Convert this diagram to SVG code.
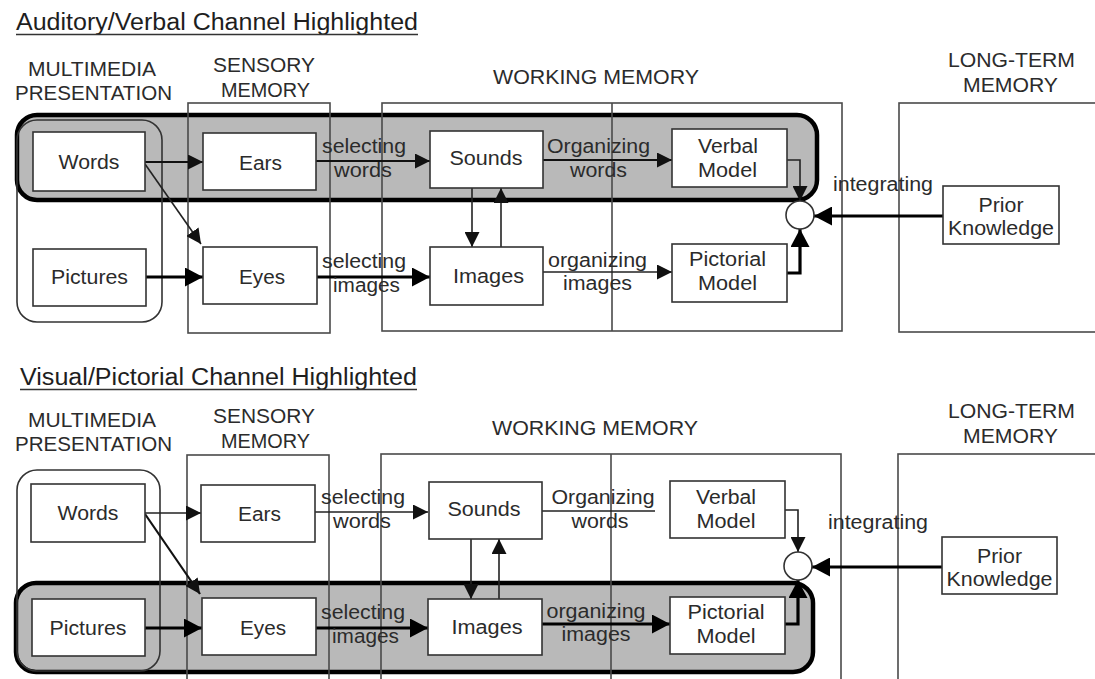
<svg xmlns="http://www.w3.org/2000/svg" width="1095" height="679" viewBox="0 0 1095 679">
  <style>
    .t { font-family: "Liberation Sans", Arial, Helvetica, sans-serif; font-size: 19.5px; fill: #2b2b2b; text-anchor: middle; }
    .title { font-family: "Liberation Sans", Arial, Helvetica, sans-serif; font-size: 23px; fill: #1e1e1e; }
    .uline { stroke: #333; stroke-width: 1.6; }
    .col { fill: none; stroke: #4a4a4a; stroke-width: 1.6; }
    .group { fill: none; stroke: #333; stroke-width: 1.6; }
    .hl { fill: #b9b9b9; stroke: #000; stroke-width: 4.5; }
    .box { fill: #fff; stroke: #333; stroke-width: 1.6; }
    .join { fill: #fff; stroke: #333; stroke-width: 1.6; }
    .thin { fill: none; stroke: #222; stroke-width: 1.6; }
    .mid { fill: none; stroke: #111; stroke-width: 2.2; }
    .bold { fill: none; stroke: #000; stroke-width: 3.2; }
  </style>
  <defs>
    <marker id="arr" markerUnits="userSpaceOnUse" markerWidth="15" markerHeight="15" refX="15" refY="7.5" orient="auto">
      <path d="M0,0 L15,7.5 L0,15 z" fill="#111"/>
    </marker>
    <marker id="arrB" markerUnits="userSpaceOnUse" markerWidth="18" markerHeight="19" refX="18" refY="9.5" orient="auto">
      <path d="M0,0 L18,9.5 L0,19 z" fill="#000"/>
    </marker>
  </defs>

  <rect width="1095" height="679" fill="#fff"/>

  <!-- ===== Upper panel: auditory/verbal channel ===== -->
  <g id="panel-auditory">
    <g id="a-title">
      <text class="title" x="16" y="30" textLength="402" lengthAdjust="spacingAndGlyphs">Auditory/Verbal Channel Highlighted</text>
      <line class="uline" x1="16" y1="34.5" x2="418" y2="34.5"/>
    </g>

    <!-- column headings -->
    <g id="a-headings">
      <text class="t" x="92" y="76" textLength="128" lengthAdjust="spacingAndGlyphs">MULTIMEDIA</text>
      <text class="t" x="93.5" y="100" textLength="157" lengthAdjust="spacingAndGlyphs">PRESENTATION</text>
      <text class="t" x="264" y="72" textLength="102" lengthAdjust="spacingAndGlyphs">SENSORY</text>
      <text class="t" x="265.5" y="97" textLength="89" lengthAdjust="spacingAndGlyphs">MEMORY</text>
      <text class="t" x="596" y="84" textLength="206" lengthAdjust="spacingAndGlyphs">WORKING MEMORY</text>
      <text class="t" x="1011.5" y="67" textLength="127" lengthAdjust="spacingAndGlyphs">LONG-TERM</text>
      <text class="t" x="1010.5" y="92" textLength="95" lengthAdjust="spacingAndGlyphs">MEMORY</text>
    </g>

    <!-- highlighted verbal channel band -->
    <rect id="a-highlight" class="hl" x="17" y="115" width="800" height="85" rx="20"/>

    <!-- memory columns -->
    <g id="a-columns">
      <rect id="a-sensory" class="col" x="188" y="103" width="142" height="230"/>
      <rect id="a-working" class="col" x="382" y="103" width="460" height="228"/>
      <line class="col" x1="612" y1="103" x2="612" y2="331"/>
      <rect id="a-longterm" class="col" x="899" y="103" width="220" height="229"/>
      <rect id="a-multimedia" class="group" x="17" y="120" width="145" height="202" rx="20"/>
    </g>

    <!-- connectors -->
    <g id="a-connectors">
      <line class="mid" x1="145" y1="162" x2="203" y2="162" marker-end="url(#arr)"/>
      <line class="thin" x1="145" y1="164" x2="201" y2="244" marker-end="url(#arr)"/>
      <line class="bold" x1="146" y1="277" x2="203" y2="277" marker-end="url(#arrB)"/>
      <line class="mid" x1="316" y1="161" x2="430" y2="161" marker-end="url(#arr)"/>
      <line class="bold" x1="317" y1="277" x2="430" y2="277" marker-end="url(#arrB)"/>
      <line class="thin" x1="472" y1="188" x2="472" y2="247" marker-end="url(#arr)"/>
      <line class="thin" x1="501" y1="247" x2="501" y2="188" marker-end="url(#arr)"/>
      <line class="mid" x1="543" y1="160" x2="672" y2="160" marker-end="url(#arr)"/>
      <line class="thin" x1="543" y1="272" x2="672" y2="272" marker-end="url(#arr)"/>
      <path class="thin" d="M787,160 H800 V201" marker-end="url(#arr)"/>
      <path class="bold" d="M787,273 H800 V229" marker-end="url(#arrB)"/>
      <line class="bold" x1="943" y1="216" x2="814" y2="216" marker-end="url(#arrB)"/>
    </g>

    <!-- connector labels -->
    <g id="a-connector-labels">
      <text class="t" x="364" y="153" textLength="84" lengthAdjust="spacingAndGlyphs">selecting</text>
      <text class="t" x="363" y="177" textLength="58" lengthAdjust="spacingAndGlyphs">words</text>
      <text class="t" x="364" y="268" textLength="84" lengthAdjust="spacingAndGlyphs">selecting</text>
      <text class="t" x="366.5" y="292" textLength="67" lengthAdjust="spacingAndGlyphs">images</text>
      <text class="t" x="598.5" y="153" textLength="103" lengthAdjust="spacingAndGlyphs">Organizing</text>
      <text class="t" x="598.5" y="177" textLength="57" lengthAdjust="spacingAndGlyphs">words</text>
      <text class="t" x="597.5" y="267" textLength="99" lengthAdjust="spacingAndGlyphs">organizing</text>
      <text class="t" x="597.5" y="290" textLength="69" lengthAdjust="spacingAndGlyphs">images</text>
      <text class="t" x="883" y="191" textLength="100" lengthAdjust="spacingAndGlyphs">integrating</text>
    </g>

    <!-- nodes -->
    <g id="a-words"><rect class="box" x="33" y="132" width="112" height="59"/><text class="t" x="89" y="169" textLength="61" lengthAdjust="spacingAndGlyphs">Words</text></g>
    <g id="a-pictures"><rect class="box" x="33" y="249" width="113" height="57"/><text class="t" x="89.5" y="284" textLength="77" lengthAdjust="spacingAndGlyphs">Pictures</text></g>
    <g id="a-ears"><rect class="box" x="203" y="133" width="113" height="57"/><text class="t" x="260.5" y="170" textLength="43" lengthAdjust="spacingAndGlyphs">Ears</text></g>
    <g id="a-eyes"><rect class="box" x="203" y="247" width="114" height="57"/><text class="t" x="262" y="284" textLength="46" lengthAdjust="spacingAndGlyphs">Eyes</text></g>
    <g id="a-sounds"><rect class="box" x="430" y="131" width="113" height="57"/><text class="t" x="486" y="165" textLength="73" lengthAdjust="spacingAndGlyphs">Sounds</text></g>
    <g id="a-images"><rect class="box" x="430" y="247" width="113" height="58"/><text class="t" x="488.5" y="283" textLength="71" lengthAdjust="spacingAndGlyphs">Images</text></g>
    <g id="a-verbal-model"><rect class="box" x="672" y="129" width="115" height="58"/><text class="t" x="728" y="153" textLength="60" lengthAdjust="spacingAndGlyphs">Verbal</text><text class="t" x="727.5" y="177" textLength="59" lengthAdjust="spacingAndGlyphs">Model</text></g>
    <g id="a-pictorial-model"><rect class="box" x="672" y="244" width="115" height="58"/><text class="t" x="727.5" y="266" textLength="77" lengthAdjust="spacingAndGlyphs">Pictorial</text><text class="t" x="727.5" y="290" textLength="59" lengthAdjust="spacingAndGlyphs">Model</text></g>
    <g id="a-integration"><circle class="join" cx="800" cy="215" r="14"/></g>
    <g id="a-prior-knowledge"><rect class="box" x="943" y="186" width="116" height="58"/><text class="t" x="1001" y="212" textLength="45" lengthAdjust="spacingAndGlyphs">Prior</text><text class="t" x="1001" y="235" textLength="106" lengthAdjust="spacingAndGlyphs">Knowledge</text></g>
  </g>

  <!-- ===== Lower panel: visual/pictorial channel ===== -->
  <g id="panel-visual">
    <g id="v-title">
      <text class="title" x="20" y="385" textLength="397" lengthAdjust="spacingAndGlyphs">Visual/Pictorial Channel Highlighted</text>
      <line class="uline" x1="20" y1="389.5" x2="417" y2="389.5"/>
    </g>

    <g id="v-headings">
      <text class="t" x="92" y="427" textLength="128" lengthAdjust="spacingAndGlyphs">MULTIMEDIA</text>
      <text class="t" x="93.5" y="451" textLength="157" lengthAdjust="spacingAndGlyphs">PRESENTATION</text>
      <text class="t" x="264" y="423" textLength="102" lengthAdjust="spacingAndGlyphs">SENSORY</text>
      <text class="t" x="265.5" y="448" textLength="89" lengthAdjust="spacingAndGlyphs">MEMORY</text>
      <text class="t" x="595" y="435" textLength="206" lengthAdjust="spacingAndGlyphs">WORKING MEMORY</text>
      <text class="t" x="1011.5" y="418" textLength="127" lengthAdjust="spacingAndGlyphs">LONG-TERM</text>
      <text class="t" x="1010.5" y="443" textLength="95" lengthAdjust="spacingAndGlyphs">MEMORY</text>
    </g>

    <!-- highlighted pictorial channel band -->
    <rect id="v-highlight" class="hl" x="16" y="583" width="797" height="89" rx="20"/>

    <g id="v-columns">
      <rect id="v-sensory" class="col" x="187" y="455" width="142" height="240"/>
      <rect id="v-working" class="col" x="381" y="454" width="460" height="240"/>
      <line class="col" x1="611" y1="454" x2="611" y2="694"/>
      <rect id="v-longterm" class="col" x="898" y="454" width="220" height="240"/>
      <rect id="v-multimedia" class="group" x="17" y="470" width="143" height="201" rx="20"/>
    </g>

    <g id="v-connectors">
      <line class="thin" x1="145" y1="513" x2="201" y2="513" marker-end="url(#arr)"/>
      <line class="mid" x1="145" y1="514" x2="200" y2="594" marker-end="url(#arr)"/>
      <line class="bold" x1="145" y1="628" x2="202" y2="628" marker-end="url(#arrB)"/>
      <line class="thin" x1="315" y1="512" x2="428" y2="512" marker-end="url(#arr)"/>
      <line class="bold" x1="316" y1="628" x2="428" y2="628" marker-end="url(#arrB)"/>
      <line class="thin" x1="471" y1="539" x2="471" y2="599" marker-end="url(#arr)"/>
      <line class="thin" x1="499" y1="599" x2="499" y2="539" marker-end="url(#arr)"/>
      <line class="thin" x1="542" y1="511" x2="655" y2="511"/>
      <line class="bold" x1="542" y1="624" x2="670" y2="624" marker-end="url(#arrB)"/>
      <path class="thin" d="M785,510 H798 V552" marker-end="url(#arr)"/>
      <path class="bold" d="M785,624 H798 V580" marker-end="url(#arrB)"/>
      <line class="bold" x1="942" y1="567" x2="812" y2="567" marker-end="url(#arrB)"/>
    </g>

    <g id="v-connector-labels">
      <text class="t" x="363" y="504" textLength="84" lengthAdjust="spacingAndGlyphs">selecting</text>
      <text class="t" x="362" y="528" textLength="58" lengthAdjust="spacingAndGlyphs">words</text>
      <text class="t" x="363" y="619" textLength="84" lengthAdjust="spacingAndGlyphs">selecting</text>
      <text class="t" x="365.5" y="643" textLength="67" lengthAdjust="spacingAndGlyphs">images</text>
      <text class="t" x="603" y="504" textLength="103" lengthAdjust="spacingAndGlyphs">Organizing</text>
      <text class="t" x="600" y="528" textLength="57" lengthAdjust="spacingAndGlyphs">words</text>
      <text class="t" x="596" y="618" textLength="99" lengthAdjust="spacingAndGlyphs">organizing</text>
      <text class="t" x="596" y="641" textLength="69" lengthAdjust="spacingAndGlyphs">images</text>
      <text class="t" x="878" y="529" textLength="100" lengthAdjust="spacingAndGlyphs">integrating</text>
    </g>

    <g id="v-words"><rect class="box" x="31" y="484" width="114" height="58"/><text class="t" x="88" y="520" textLength="61" lengthAdjust="spacingAndGlyphs">Words</text></g>
    <g id="v-pictures"><rect class="box" x="32" y="599" width="113" height="57"/><text class="t" x="88" y="635" textLength="77" lengthAdjust="spacingAndGlyphs">Pictures</text></g>
    <g id="v-ears"><rect class="box" x="201" y="485" width="114" height="57"/><text class="t" x="259.5" y="521" textLength="43" lengthAdjust="spacingAndGlyphs">Ears</text></g>
    <g id="v-eyes"><rect class="box" x="202" y="598" width="114" height="57"/><text class="t" x="263" y="635" textLength="46" lengthAdjust="spacingAndGlyphs">Eyes</text></g>
    <g id="v-sounds"><rect class="box" x="429" y="482" width="113" height="57"/><text class="t" x="484" y="516" textLength="73" lengthAdjust="spacingAndGlyphs">Sounds</text></g>
    <g id="v-images"><rect class="box" x="428" y="599" width="114" height="56"/><text class="t" x="487" y="634" textLength="71" lengthAdjust="spacingAndGlyphs">Images</text></g>
    <g id="v-verbal-model"><rect class="box" x="670" y="481" width="115" height="57"/><text class="t" x="726" y="504" textLength="60" lengthAdjust="spacingAndGlyphs">Verbal</text><text class="t" x="726" y="528" textLength="59" lengthAdjust="spacingAndGlyphs">Model</text></g>
    <g id="v-pictorial-model"><rect class="box" x="670" y="597" width="115" height="57"/><text class="t" x="726" y="619" textLength="77" lengthAdjust="spacingAndGlyphs">Pictorial</text><text class="t" x="726" y="643" textLength="59" lengthAdjust="spacingAndGlyphs">Model</text></g>
    <g id="v-integration"><circle class="join" cx="798" cy="566" r="14"/></g>
    <g id="v-prior-knowledge"><rect class="box" x="942" y="537" width="115" height="57"/><text class="t" x="999.5" y="563" textLength="45" lengthAdjust="spacingAndGlyphs">Prior</text><text class="t" x="999.5" y="586" textLength="106" lengthAdjust="spacingAndGlyphs">Knowledge</text></g>
  </g>
</svg>
